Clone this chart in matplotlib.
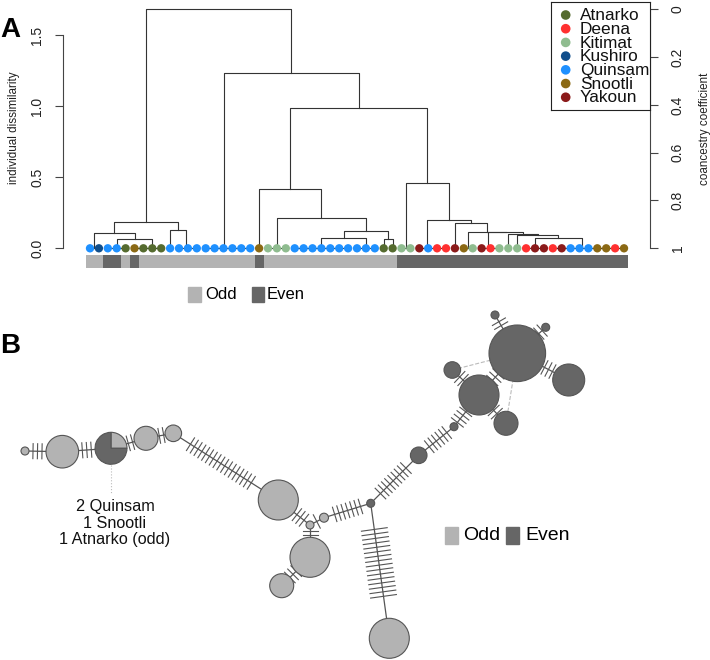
import numpy as np
import matplotlib
matplotlib.use("Agg")
import matplotlib.pyplot as plt
from matplotlib.patches import Circle, Wedge, Rectangle

plt.rcParams['font.family'] = ['Liberation Sans', 'DejaVu Sans']

# ---------------- data: panel A (dendrogram) ----------------
populations = ["Atnarko", "Deena", "Kitimat", "Kushiro", "Quinsam", "Snootli", "Yakoun"]
pop_colors = ["#556B2F", "#FF3030", "#8FBC8F", "#104E8B", "#1E90FF", "#8B6914", "#8B1A1A"]

leaf_pop = (["Quinsam", "Kushiro", "Quinsam", "Quinsam", "Atnarko", "Snootli",
             "Atnarko", "Atnarko", "Atnarko"]
            + ["Quinsam"] * 10 + ["Snootli"] + ["Kitimat"] * 3 + ["Quinsam"] * 10
            + ["Atnarko"] * 2 + ["Kitimat"] * 2
            + ["Yakoun", "Quinsam", "Deena", "Deena", "Yakoun", "Snootli", "Kitimat",
               "Yakoun", "Deena", "Kitimat", "Kitimat", "Kitimat", "Deena", "Yakoun",
               "Yakoun", "Deena", "Yakoun", "Quinsam", "Quinsam", "Quinsam", "Snootli",
               "Snootli", "Deena", "Snootli"])
leaf_brood = "OOEEOEOOO" + "O" * 10 + "E" + "O" * 15 + "E" * 26

# merges: (name, left, right, height); ints = leaves, lists = groups joined at 0
merges = [
    ("A1", [3, 4, 5], [[6, 7, 8], 9], 0.065),
    ("A2", [1, 2], "A1", 0.105),
    ("A3", 10, [11, [12, 13]], 0.131),
    ("A4", "A2", "A3", 0.183),
    ("H", 34, 35, 0.063),
    ("G", [24, 25, 26, 27, 28, 29, 30], [31, 32, 33], 0.070),
    ("F", "G", "H", 0.125),
    ("E", [21, 22, 23], "F", 0.211),
    ("D", 20, "E", 0.415),
    ("M", [50, 51, 52], [[53, 54, 55], [56, 57, 58, 59, 60, 61]], 0.070),
    ("S", 49, "M", 0.094),
    ("Q", 48, "S", 0.098),
    ("P", [45, [46, 47]], "Q", 0.113),
    ("L", [43, 44], "P", 0.117),
    ("K", 42, "L", 0.181),
    ("J", [38, [39, [40, 41]]], "K", 0.197),
    ("I", [36, 37], "J", 0.461),
    ("C", "D", "I", 0.989),
    ("B", [[14, 15], [16, 17, 18, 19]], "C", 1.231),
    ("root", "A4", "B", 1.681),
]

# ---------------- data: panel B (haplotype network) ----------------
hap_x = [25, 62.3, 111, 146, 173.3, 278.3, 310, 324, 370.7, 310, 281.7,
         389.3, 418.7, 454, 479, 452.3, 506, 517.3, 568.7, 495, 545.7]
hap_y = [451, 451.7, 448.3, 438.3, 433.3, 500, 525, 517.7, 503.3, 557.3, 585.7,
         638.3, 455.3, 426.7, 395, 370, 423.3, 353.3, 380, 315, 327.3]
hap_size = [4, 16.3, 16, 12, 8.3, 20, 4, 4.5, 4, 20, 12,
            20, 8.3, 4, 20, 8.3, 12, 28.3, 16, 4, 4]
hap_brood = "OOPOOOOOEOOOEEEEEEEEE"     # P = mixed (pie)
pie_odd, pie_even = 1, 3
edges = [(0, 1, 3), (1, 2, 3), (2, 3, 2), (3, 4, 2), (4, 5, 17), (5, 6, 3),
         (6, 7, 1), (7, 8, 7), (6, 9, 2), (9, 10, 3), (8, 11, 16), (8, 12, 9),
         (12, 13, 6), (13, 14, 4), (14, 15, 2), (14, 16, 2), (14, 17, 3),
         (17, 18, 3), (17, 19, 2), (17, 20, 2)]
alt_edges = [(15, 17), (16, 17)]

ODD, EVEN = "#B3B3B3", "#666666"
LINE = "#333333"

W, H = 710, 660
fig = plt.figure(figsize=(W / 100, H / 100), dpi=100)

def fx(px):
    return px / W

def fy(py):
    return 1 - py / H

# ================= panel A =================
ax = fig.add_axes([fx(63.3), fy(270), fx(650) - fx(63.3), 270 / H])
ax.set_xlim(-2.0, 63.92)
ax.set_ylim(-0.1526, 1.746)

node_pos = {}

def xpos(c):
    if isinstance(c, str):
        return node_pos[c][0]
    if isinstance(c, list):
        return (xpos(c[0]) + xpos(c[-1])) / 2
    return c

def hpos(c):
    return node_pos[c][1] if isinstance(c, str) else 0.0

def flat(c):
    if isinstance(c, list):
        return [l for k in c for l in flat(k)]
    return [c]

for name, l, r, h in merges:
    xl, xr = xpos(l), xpos(r)
    ax.plot([xl, xl, xr, xr], [hpos(l), h, h, hpos(r)], color=LINE, lw=0.8)
    for c in (l, r):
        if isinstance(c, list):
            lv = flat(c)
            ax.plot([min(lv), max(lv)], [0, 0], color=LINE, lw=0.8)
    node_pos[name] = ((xl + xr) / 2, h)

leaves = np.arange(1, len(leaf_pop) + 1)
cmap = dict(zip(populations, pop_colors))
ax.scatter(leaves, np.zeros(len(leaves)), c=[cmap[p] for p in leaf_pop],
           s=36, linewidths=0, zorder=3)
ax.bar(leaves, 0.0914, bottom=-0.1385, width=1.0, linewidth=0,
       color=[EVEN if b == "E" else ODD for b in leaf_brood])

for s in ['top', 'bottom', 'right']:
    ax.spines[s].set_visible(False)
ax.spines['left'].set_bounds(0, 1.5)
ax.spines['left'].set_color("#444444")
ax.set_xticks([])
ax.set_yticks([0, 0.5, 1.0, 1.5])
ax.set_yticklabels(["0.0", "0.5", "1.0", "1.5"], rotation=90, va='center')
ax.tick_params(axis='y', length=5.8, width=0.8, pad=8, labelsize=10, colors="#444444")
ax.tick_params(axis='y', labelcolor="#222222")
ax.patch.set_alpha(0)

ax2 = ax.twinx()
ax2.set_ylim(1.0908, -0.0389)
for s in ['top', 'bottom', 'left']:
    ax2.spines[s].set_visible(False)
ax2.spines['right'].set_bounds(0, 1)
ax2.spines['right'].set_color("#444444")
ax2.set_yticks([0, 0.2, 0.4, 0.6, 0.8, 1.0])
ax2.set_yticklabels(["0", "0.2", "0.4", "0.6", "0.8", "1"], rotation=90, va='center')
ax2.tick_params(axis='y', length=5.8, width=0.8, pad=9, labelsize=10, colors="#444444")
ax2.tick_params(axis='y', labelcolor="#222222")

fig.text(fx(14), fy(127.5), "individual dissimilarity", rotation=90,
         ha='center', va='center', fontsize=8.4, color="#222222")
fig.text(fx(705), fy(129), "coancestry coefficient", rotation=90,
         ha='center', va='center', fontsize=8.4, color="#222222")

# population legend
lax = fig.add_axes([fx(550.7), fy(110), fx(650) - fx(550.7), 108.3 / H])
lax.set_xlim(0, 1)
lax.set_ylim(6.93, -0.97)
lax.set_xticks([])
lax.set_yticks([])
for s in lax.spines.values():
    s.set_linewidth(0.8)
    s.set_color("#222222")
lax.scatter(np.full(len(populations), 0.151), np.arange(len(populations)),
            c=pop_colors, s=48, linewidths=0)
for k, p in enumerate(populations):
    lax.text(0.295, k + 0.05, p, fontsize=12.4, va='center', ha='left', color="#111111")

# odd / even legend of panel A
fig.add_artist(Rectangle((fx(188), fy(302)), fx(13), 15 / H, color=ODD,
                         transform=fig.transFigure))
fig.text(fx(205), fy(294.5), "Odd", fontsize=12, va='center', ha='left')
fig.add_artist(Rectangle((fx(252), fy(302)), fx(12), 15 / H, color=EVEN,
                         transform=fig.transFigure))
fig.text(fx(267), fy(294.5), "Even", fontsize=12, va='center', ha='left')

fig.text(fx(0), fy(37), "A", fontsize=20, fontweight='bold', ha='left', va='baseline')
fig.text(fx(0), fy(353), "B", fontsize=20, fontweight='bold', ha='left', va='baseline')

# ================= panel B =================
bx = fig.add_axes([0, 0, 1, 1 - 300 / H])
bx.set_xlim(0, W)
bx.set_ylim(H, 300)
bx.axis('off')

EDGE = "#555555"
for i, j, n in edges:
    x0, y0, x1, y1 = hap_x[i], hap_y[i], hap_x[j], hap_y[j]
    bx.plot([x0, x1], [y0, y1], color=EDGE, lw=0.9, zorder=1)
    d = np.hypot(x1 - x0, y1 - y0)
    ux, uy = (x1 - x0) / d, (y1 - y0) / d
    mid = (hap_size[i] + (d - hap_size[j])) / 2
    tl = 26 if n >= 16 and abs(ux) < 0.3 else 15
    for k in range(n):
        t = mid + (k - (n - 1) / 2) * 4.5
        cx, cy = x0 + ux * t, y0 + uy * t
        bx.plot([cx - uy * tl / 2, cx + uy * tl / 2], [cy + ux * tl / 2, cy - ux * tl / 2],
                color=EDGE, lw=0.8, zorder=1)
for i, j in alt_edges:
    bx.plot([hap_x[i], hap_x[j]], [hap_y[i], hap_y[j]], color="#bbbbbb", lw=0.8,
            ls='--', zorder=0)

for x, y, r, b in zip(hap_x, hap_y, hap_size, hap_brood):
    if b == "P":
        frac = pie_odd / (pie_odd + pie_even)
        bx.add_patch(Wedge((x, y), r, 270, 270 + 360 * frac, facecolor=ODD,
                           edgecolor=EDGE, lw=0.8, zorder=2))
        bx.add_patch(Wedge((x, y), r, 270 + 360 * frac, 270 + 360, facecolor=EVEN,
                           edgecolor=EDGE, lw=0.8, zorder=2))
    else:
        bx.add_patch(Circle((x, y), r, facecolor=EVEN if b == "E" else ODD,
                            edgecolor=EDGE, lw=0.8, zorder=2))

bx.plot([111, 111], [465, 494], color="#bbbbbb", lw=0.8, ls=':')
bx.text(115, 523, "2 Quinsam\n1 Snootli\n1 Atnarko (odd)", ha='center', va='center',
        multialignment='center', fontsize=11.7, linespacing=1.1, color="#111111")

bx.add_patch(Rectangle((445, 527), 13, 17, color=ODD))
bx.text(463, 536, "Odd", fontsize=14, va='center', ha='left')
bx.add_patch(Rectangle((506, 527), 13, 17, color=EVEN))
bx.text(525, 536, "Even", fontsize=14, va='center', ha='left')

fig.savefig("out.png", dpi=100)
